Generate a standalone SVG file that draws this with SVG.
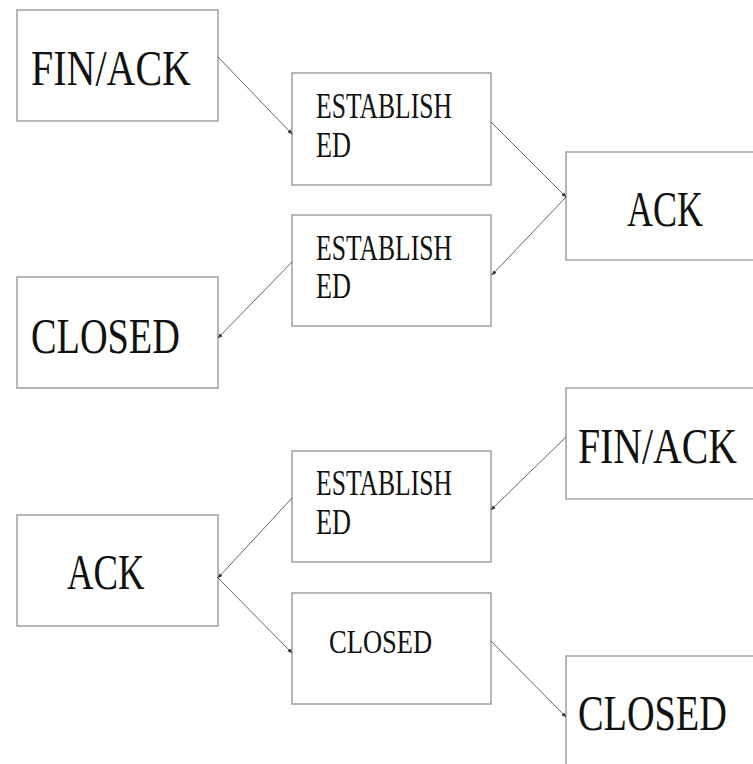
<svg xmlns="http://www.w3.org/2000/svg" width="753" height="764" viewBox="0 0 753 764">
  <style>
    .box { fill: #ffffff; stroke: #a6a6a6; stroke-width: 1.6; }
    .big { font-family: "Liberation Serif", "Times New Roman", serif; font-size: 51px; fill: #111; }
    .small { font-family: "Liberation Serif", "Times New Roman", serif; font-size: 35px; fill: #111; }
    .edge { stroke: #666; stroke-width: 1; fill: none; marker-end: url(#tip); }
  </style>
  <defs>
    <marker id="tip" viewBox="0 0 10 10" refX="9" refY="5" markerWidth="5" markerHeight="5" orient="auto" markerUnits="userSpaceOnUse">
      <path d="M0,1 L10,5 L0,9 z" fill="#333"/>
    </marker>
  </defs>
  <rect width="753" height="764" fill="#ffffff"/>

  <!-- left column -->
  <g id="n-finack-1">
    <rect class="box" x="17" y="10" width="201" height="111"/>
    <text class="big" transform="translate(31,85) scale(0.784,1)">FIN/ACK</text>
  </g>
  <g id="n-closed-1">
    <rect class="box" x="17" y="277" width="201" height="111"/>
    <text class="big" transform="translate(31,353) scale(0.751,1)">CLOSED</text>
  </g>
  <g id="n-ack-2">
    <rect class="box" x="17" y="515" width="201" height="111"/>
    <text class="big" transform="translate(67,589) scale(0.72,1)">ACK</text>
  </g>

  <!-- middle column -->
  <g id="n-established-1">
    <rect class="box" x="292" y="73" width="199" height="112"/>
    <text class="small" transform="translate(316,118) scale(0.732,1)">ESTABLISH</text>
    <text class="small" transform="translate(316,157) scale(0.75,1)">ED</text>
  </g>
  <g id="n-established-2">
    <rect class="box" x="292" y="215" width="199" height="111"/>
    <text class="small" transform="translate(316,260) scale(0.732,1)">ESTABLISH</text>
    <text class="small" transform="translate(316,298) scale(0.75,1)">ED</text>
  </g>
  <g id="n-established-3">
    <rect class="box" x="292" y="451" width="199" height="111"/>
    <text class="small" transform="translate(316,495) scale(0.732,1)">ESTABLISH</text>
    <text class="small" transform="translate(316,534) scale(0.75,1)">ED</text>
  </g>
  <g id="n-closed-2">
    <rect class="box" x="292" y="593" width="199" height="111"/>
    <text class="small" style="font-size:34px" transform="translate(329,653) scale(0.78,1)">CLOSED</text>
  </g>

  <!-- right column: boxes run past the right edge -->
  <g id="n-ack-1">
    <path class="box" d="M753,152 H566 V260 H753"/>
    <text class="big" transform="translate(627,226) scale(0.706,1)">ACK</text>
  </g>
  <g id="n-finack-2">
    <path class="box" d="M753,388 H566 V499 H753"/>
    <text class="big" transform="translate(578,463) scale(0.78,1)">FIN/ACK</text>
  </g>
  <g id="n-closed-3">
    <path class="box" d="M753,656 H566 V764"/>
    <text class="big" transform="translate(578,730) scale(0.751,1)">CLOSED</text>
  </g>

  <g id="connectors">
    <line class="edge" x1="218" y1="57" x2="292" y2="134"/>
    <line class="edge" x1="491" y1="122" x2="566" y2="197"/>
    <line class="edge" x1="566" y1="197" x2="492" y2="275"/>
    <line class="edge" x1="292" y1="262" x2="218" y2="338"/>
    <line class="edge" x1="566" y1="437" x2="491" y2="510"/>
    <line class="edge" x1="292" y1="498" x2="218" y2="578"/>
    <line class="edge" x1="218" y1="578" x2="292" y2="653"/>
    <line class="edge" x1="491" y1="641" x2="566" y2="717"/>
  </g>
</svg>
